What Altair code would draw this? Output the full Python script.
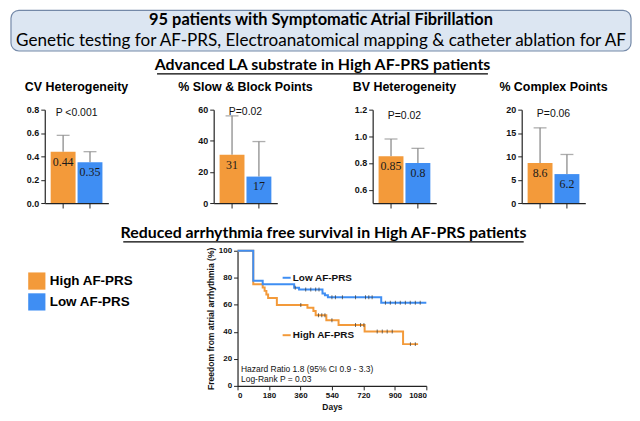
import altair as alt
import pandas as pd

# ---------------- data ----------------
groups = ["High AF-PRS", "Low AF-PRS"]
group_colors = ["#F39A3A", "#3F8EF3"]

header_title = "95 patients with Symptomatic Atrial Fibrillation"
header_subtitle = "Genetic testing for AF-PRS, Electroanatomical mapping & catheter ablation for AF"
section1 = "Advanced LA substrate in High AF-PRS patients"
section2 = "Reduced arrhythmia free survival in High AF-PRS patients"

panel_titles = ["CV Heterogeneity", "% Slow & Block Points", "BV Heterogeneity", "% Complex Points"]
mean_high = [0.44, 31, 0.85, 8.6]
mean_low = [0.35, 17, 0.80, 6.2]
upper_high = [0.58, 56, 0.98, 16.1]
upper_low = [0.44, 39.5, 0.91, 10.4]
value_labels_high = ["0.44", "31", "0.85", "8.6"]
value_labels_low = ["0.35", "17", "0.8", "6.2"]
p_labels = ["P <0.001", "P=0.02", "P=0.02", "P=0.06"]
p_label_y = [0.775, 58.7, 1.155, 19.1]
y_min = [0, 0, 0.5, 0]
y_max = [0.8, 60, 1.2, 20]
y_tick_values = [[0, 0.2, 0.4, 0.6, 0.8], [0, 20, 40, 60], [0.6, 0.8, 1.0, 1.2], [0, 5, 10, 15, 20]]
y_tick_formats = [".1f", "d", ".1f", "d"]

km_high_days = [0, 90, 144, 155, 165, 175, 225, 400, 434, 447, 508, 578, 727, 947, 1033]
km_high_surv = [100, 75.2, 72.8, 70.3, 67.7, 65.0, 59.8, 57.9, 55.4, 52.3, 48.5, 45.0, 40.3, 30.9, 30.9]
km_low_days = [0, 90, 144, 324, 352, 486, 500, 517, 822, 1080]
km_low_surv = [100, 77.8, 75.2, 72.6, 71.3, 68.4, 67.0, 65.6, 61.5, 61.5]
censor_high_days = [362, 463, 482, 500, 540, 675, 704, 723, 799, 828, 856, 885, 989, 1017]
censor_high_surv = [59.8, 52.3, 52.3, 52.3, 48.5, 45.0, 45.0, 45.0, 40.3, 40.3, 40.3, 40.3, 30.9, 30.9]
censor_low_days = [330, 390, 419, 447, 466, 540, 560, 600, 675, 732, 751, 770,
                   846, 874, 903, 931, 960, 988, 1017, 1045]
censor_low_surv = [72.6, 71.3, 71.3, 71.3, 71.3, 65.6, 65.6, 65.6, 65.6, 65.6, 65.6, 65.6,
                   61.5, 61.5, 61.5, 61.5, 61.5, 61.5, 61.5, 61.5]
km_x_ticks = [0, 180, 360, 540, 720, 900, 1080]
km_y_ticks = [0, 20, 40, 60, 80, 100]
curve_label_text = ["High AF-PRS", "Low AF-PRS"]
curve_label_surv = [37.5, 80.0]
curve_label_day_start = [258, 258]
curve_label_day_end = [304, 304]
curve_label_day_text = [316, 316]
hazard_lines = ["Hazard Ratio 1.8 (95% CI 0.9 - 3.3)", "Log-Rank P = 0.03"]
hazard_day = [20, 20]
hazard_surv = [12.6, 5.4]

# ---------------- styles ----------------
SANS = "Liberation Sans"
HEAD = "Lato"
color_scale = alt.Scale(domain=groups, range=group_colors)
PW, PH = 64, 94          # bar panel plot size
KW, KH = 190, 136        # KM plot size


def one(t):
    return pd.DataFrame({"t": [t]})


def spacer(w, h):
    return alt.Chart(one("")).mark_point(opacity=0).encode(
        x=alt.value(0), y=alt.value(0)).properties(width=w, height=h)


def text_layer(t, x, y, size, weight="normal", font=HEAD, align="center"):
    return alt.Chart(one(t)).mark_text(
        font=font, fontSize=size, fontWeight=weight, align=align,
        baseline="middle", color="#000").encode(
        x=alt.value(x), y=alt.value(y), text="t:N")


def underline(x1, x2, y):
    return alt.Chart(one("")).mark_rule(color="#000", strokeWidth=1.3).encode(
        x=alt.value(x1), x2=alt.value(x2), y=alt.value(y))


# ---------------- row A: header ----------------
box = alt.Chart(one("")).mark_rect(
    fill="#dce6f2", stroke="#7489a8", strokeWidth=1.2, cornerRadius=8).encode(
    x=alt.value(0), x2=alt.value(624), y=alt.value(0), y2=alt.value(41))
rowA = alt.layer(
    box,
    text_layer(header_title, 312, 10, 16.5, "bold"),
    text_layer(header_subtitle, 312, 30.5, 17.2),
    text_layer(section1, 313.5, 55, 16, "bold"),
    underline(147, 480, 64),
).properties(width=624, height=71)


# ---------------- row B: bar panels ----------------
def bar_panel(i):
    df = pd.DataFrame({
        "group": groups,
        "mean": [mean_high[i], mean_low[i]],
        "upper": [upper_high[i], upper_low[i]],
        "label": [value_labels_high[i], value_labels_low[i]],
    })
    lo, hi = y_min[i], y_max[i]
    x = alt.X("group:N", sort=groups,
              scale=alt.Scale(paddingInner=0.074, paddingOuter=0.22),
              axis=alt.Axis(title=None, labels=False, tickSize=5, domainColor="#222",
                            tickColor="#222", domainWidth=1.2))
    yscale = alt.Scale(domain=[lo, hi], nice=False, zero=False)
    yaxis = alt.Axis(title=None, values=y_tick_values[i], format=y_tick_formats[i],
                     labelFont=SANS, labelFontWeight="bold", labelFontSize=9,
                     labelColor="#111", tickSize=4, grid=False, domainColor="#222",
                     tickColor="#222", domainWidth=1.2, labelPadding=2)
    base = alt.Chart(df)
    err = base.mark_rule(color="#8c8c8c", strokeWidth=1.3).encode(
        x=x, y=alt.Y("mean:Q", scale=yscale, axis=yaxis), y2="upper:Q")
    cap = base.mark_tick(color="#8c8c8c", size=13, thickness=1.3).encode(
        x=x, y=alt.Y("upper:Q", scale=yscale, axis=yaxis))
    bars = base.mark_bar().encode(
        x=x, y=alt.Y("mean:Q", scale=yscale, axis=yaxis), y2=alt.datum(lo),
        color=alt.Color("group:N", scale=color_scale, legend=None))
    vals = base.mark_text(font="Liberation Serif", fontSize=12, baseline="top", dy=5,
                          color="#1a1a1a").encode(
        x=x, y=alt.Y("mean:Q", scale=yscale, axis=yaxis), text="label:N")
    ptxt = alt.Chart(one(p_labels[i])).mark_text(
        font=SANS, fontSize=10.5, color="#111", baseline="middle").encode(
        x=alt.value(PW / 2), y=alt.Y(datum=p_label_y[i], scale=yscale, axis=yaxis), text="t:N")
    return alt.layer(err, cap, bars, vals, ptxt).properties(
        width=PW, height=PH,
        title=alt.TitleParams(panel_titles[i], font=SANS, fontSize=12.5, fontWeight="bold",
                              anchor="middle", offset=12, color="#000"))


rowB = alt.hconcat(
    spacer(34, PH), bar_panel(0), spacer(106, PH), bar_panel(1),
    spacer(96, PH), bar_panel(2), spacer(86, PH), bar_panel(3),
    spacing=0, bounds="flush")

# ---------------- row C: section 2 heading ----------------
rowC = alt.layer(
    text_layer(section2, 314.5, 24, 16, "bold"),
    underline(113, 516, 33),
).properties(width=624, height=38)

# ---------------- row D: legend + KM ----------------
leg_df = pd.DataFrame({"group": groups})
leg_y = alt.Y("group:N", sort=groups,
              scale=alt.Scale(domain=groups, range=[30.5, 51.5], padding=0), axis=None)
legend_sq = alt.Chart(leg_df).mark_square(size=300, opacity=1).encode(
    x=alt.value(26), y=leg_y, color=alt.Color("group:N", scale=color_scale, legend=None))
legend_tx = alt.Chart(leg_df).mark_text(
    font=SANS, fontSize=13.5, fontWeight="bold", align="left", baseline="middle", color="#000").encode(
    x=alt.value(39), y=leg_y, text="group:N")
legend_chart = alt.layer(legend_sq, legend_tx).properties(width=228, height=KH)

km_df = pd.DataFrame({
    "group": [groups[0]] * len(km_high_days) + [groups[1]] * len(km_low_days),
    "day": km_high_days + km_low_days,
    "surv": km_high_surv + km_low_surv,
})
cens_df = pd.DataFrame({
    "day": censor_high_days + censor_low_days,
    "surv": censor_high_surv + censor_low_surv,
})
lab_df = pd.DataFrame({
    "group": curve_label_text, "surv": curve_label_surv,
    "d0": curve_label_day_start, "d1": curve_label_day_end, "dt": curve_label_day_text,
})
hz_df = pd.DataFrame({"t": hazard_lines, "day": hazard_day, "surv": hazard_surv})

xs = alt.Scale(domain=[0, 1080], nice=False)
ys = alt.Scale(domain=[0, 100], nice=False)
x_axis = alt.Axis(values=km_x_ticks, format="d", title="Days", labelFont=SANS, labelFontWeight="bold",
                  labelFontSize=8, titleFont=SANS, titleFontWeight="bold", titleFontSize=8.5,
                  tickSize=4, grid=False, domainColor="#222", tickColor="#222", labelColor="#111",
                  titleColor="#111", labelPadding=2, titlePadding=3, domainWidth=1.2)
y_axis = alt.Axis(values=km_y_ticks, title="Freedom from atrial arrhythmia (%)", labelFont=SANS,
                  labelFontWeight="bold", labelFontSize=8, titleFont=SANS, titleFontWeight="bold",
                  titleFontSize=8.6, tickSize=4, grid=False, domainColor="#222", tickColor="#222",
                  labelColor="#111", titleColor="#111", labelPadding=2, titlePadding=3,
                  domainWidth=1.2)

km_lines = alt.Chart(km_df).mark_line(interpolate="step-after", strokeWidth=2).encode(
    x=alt.X("day:Q", scale=xs, axis=x_axis),
    y=alt.Y("surv:Q", scale=ys, axis=y_axis),
    color=alt.Color("group:N", scale=color_scale, legend=None),
    detail="group:N")
km_cens = alt.Chart(cens_df).mark_tick(orient="vertical", size=4, thickness=1, color="#333").encode(
    x=alt.X("day:Q", scale=xs, axis=x_axis), y=alt.Y("surv:Q", scale=ys, axis=y_axis))
lab_line = alt.Chart(lab_df).mark_rule(strokeWidth=2).encode(
    x=alt.X("d0:Q", scale=xs, axis=x_axis), x2="d1:Q",
    y=alt.Y("surv:Q", scale=ys, axis=y_axis),
    color=alt.Color("group:N", scale=color_scale, legend=None))
lab_text = alt.Chart(lab_df).mark_text(
    font=SANS, fontSize=10, fontWeight="bold", align="left", baseline="middle", color="#111").encode(
    x=alt.X("dt:Q", scale=xs, axis=x_axis), y=alt.Y("surv:Q", scale=ys, axis=y_axis), text="group:N")
hz_text = alt.Chart(hz_df).mark_text(
    font=SANS, fontSize=8.5, align="left", baseline="middle", color="#111").encode(
    x=alt.X("day:Q", scale=xs, axis=x_axis), y=alt.Y("surv:Q", scale=ys, axis=y_axis), text="t:N")
km_chart = alt.layer(km_lines, km_cens, lab_line, lab_text, hz_text).properties(width=KW, height=KH)

rowD = alt.hconcat(legend_chart, km_chart, spacing=0, bounds="flush")

chart = alt.vconcat(rowA, rowB, rowC, rowD, spacing=0).properties(
    padding=0).configure_view(strokeWidth=0)

chart.save("out.html", embed_options={"renderer": "svg", "actions": False})
